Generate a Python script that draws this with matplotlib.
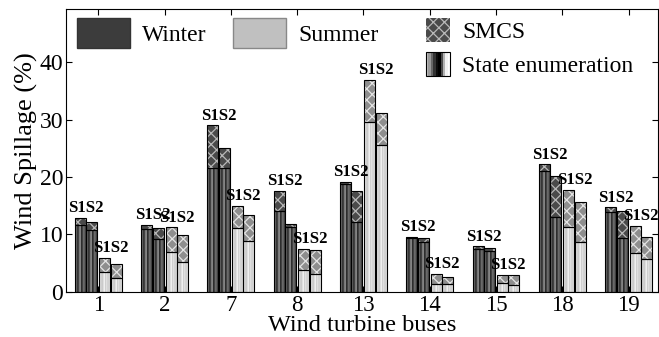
import numpy as np
import matplotlib
matplotlib.use('Agg')
import matplotlib.pyplot as plt
from matplotlib.patches import Rectangle, Patch
from matplotlib.legend_handler import HandlerBase

plt.rcParams['font.family'] = ['Liberation Serif', 'DejaVu Serif']
plt.rcParams['hatch.linewidth'] = 0.9

# данные: SMCS (полная высота) и State enumeration (нижняя часть)
buses = ['1', '2', '7', '8', '13', '14', '15', '18', '19']
win_s1_smcs = [12.8, 11.6, 29.0, 17.6, 19.1, 9.6, 7.9, 22.2, 14.7]
win_s1_se = [11.6, 10.9, 21.5, 14.0, 18.8, 9.4, 7.5, 21.1, 13.9]
win_s2_smcs = [12.2, 11.1, 25.0, 11.8, 17.6, 9.3, 7.6, 20.1, 14.0]
win_s2_se = [10.7, 9.2, 21.5, 11.2, 12.1, 8.6, 7.0, 13.0, 9.4]
sum_s1_smcs = [5.9, 11.2, 15.0, 7.5, 37.0, 3.1, 2.9, 17.8, 11.4]
sum_s1_se = [3.4, 6.9, 11.1, 3.8, 29.6, 1.3, 1.5, 11.2, 6.8]
sum_s2_smcs = [4.8, 9.9, 13.4, 7.3, 31.2, 2.6, 2.8, 15.7, 9.6]
sum_s2_se = [2.3, 5.2, 8.8, 3.1, 25.6, 1.3, 1.2, 8.7, 5.6]

# полосатая заливка (цилиндр)
win_profile = np.array([0.5, 0.35, 0.12, 0.45, 0.55, 0.15, 0.3, 0.5, 0.2, 0.45])
sum_profile = np.array([0.8, 0.9, 0.75, 0.85, 0.95, 0.8, 0.9, 0.78, 0.88, 0.82])
legend_profile = np.array([0.75, 0.6, 0.4, 0.2, 0.05, 0.0, 0.3, 0.7, 0.95, 1.0])

x = np.arange(len(buses))
w = 0.166
offsets = [-0.271, -0.098, 0.098, 0.271]

fig = plt.figure(figsize=(6.59, 3.37), dpi=100)
ax = fig.add_axes([0.100, 0.135, 0.898, 0.838])

series = [
    (win_s1_smcs, win_s1_se, win_profile, '#4a4a4a', '#b8b8b8'),
    (win_s2_smcs, win_s2_se, win_profile, '#4a4a4a', '#b8b8b8'),
    (sum_s1_smcs, sum_s1_se, sum_profile, '#8e8e8e', '#e4e4e4'),
    (sum_s2_smcs, sum_s2_se, sum_profile, '#8e8e8e', '#e4e4e4'),
]

for off, (smcs, se, prof, hbg, hcol) in zip(offsets, series):
    smcs = np.array(smcs)
    se = np.array(se)
    pos = x + off
    # нижняя часть: state enumeration
    bars = ax.bar(pos, se, w, color='none', edgecolor='none', zorder=2)
    for b in bars:
        x0 = b.get_x()
        im = ax.imshow(prof[None, :], cmap='gray', vmin=0, vmax=1, aspect='auto',
                       interpolation='bilinear',
                       extent=[x0, x0 + b.get_width(), 0, b.get_height()], zorder=2)
        im.set_clip_path(b)
    ax.bar(pos, se, w, fill=False, edgecolor='black', lw=0.8, zorder=3)
    # верхняя часть: SMCS
    ax.bar(pos, smcs - se, w, bottom=se, color=hbg, edgecolor=hcol, hatch='xxx',
           lw=0, zorder=2)
    ax.bar(pos, smcs - se, w, bottom=se, fill=False, edgecolor='black', lw=0.8, zorder=3)

# подписи S1S2 над парами
pairs = [(win_s1_smcs, win_s2_smcs, offsets[0], offsets[1]),
         (sum_s1_smcs, sum_s2_smcs, offsets[2], offsets[3])]
for a, b, o1, o2 in pairs:
    for i in range(len(buses)):
        ax.text(x[i] + (o1 + o2) / 2, max(a[i], b[i]) + 0.3, 'S1S2',
                ha='center', va='bottom', fontsize=12, fontweight='bold', zorder=4)

ax.set_xlim(-0.49, 8.44)
ax.set_ylim(0, 49.3)
ax.set_xticks(x)
ax.set_xticklabels(buses)
ax.set_yticks([0, 10, 20, 30, 40])
ax.tick_params(direction='in', top=True, right=True, length=4, labelsize=17, pad=2)
ax.tick_params(axis='x', pad=2.5, labelsize=16.5)
ax.set_xlabel('Wind turbine buses', fontsize=17.5, labelpad=-1)
ax.set_ylabel('Wind Spillage (%)', fontsize=19, labelpad=1)


class StripeHandler(HandlerBase):
    def create_artists(self, legend, orig_handle, xdescent, ydescent, width, height,
                       fontsize, trans):
        n = len(legend_profile)
        arts = []
        for k, v in enumerate(legend_profile):
            r = Rectangle((-xdescent + k * width / n, -ydescent), width / n, height,
                          facecolor=str(v), edgecolor='none', transform=trans)
            arts.append(r)
        arts.append(Rectangle((-xdescent, -ydescent), width, height, fill=False,
                              edgecolor='black', lw=0.8, transform=trans))
        return arts


h_win = Patch(facecolor='#3c3c3c', edgecolor='#333333')
h_sum = Patch(facecolor='#c0c0c0', edgecolor='#888888')
leg1 = ax.legend([h_win, h_sum], ['Winter', 'Summer'], ncol=2, frameon=False,
                 loc='upper left', bbox_to_anchor=(-0.009, 1.028), fontsize=17,
                 handlelength=2.25, handleheight=1.6, handletextpad=0.5,
                 columnspacing=1.12, borderaxespad=0.3)
ax.add_artist(leg1)

h_smcs = Patch(facecolor='#4a4a4a', edgecolor='#b8b8b8', hatch='xxx', lw=0)
h_se = Rectangle((0, 0), 1, 1)
ax.legend([h_smcs, h_se], ['SMCS', 'State enumeration'], frameon=False,
          loc='upper left', bbox_to_anchor=(0.58, 1.027), fontsize=17,
          handlelength=1.05, handleheight=1.2, handletextpad=0.5,
          labelspacing=0.38, borderaxespad=0.3,
          handler_map={Rectangle: StripeHandler()})

fig.savefig('out.png', dpi=100)
